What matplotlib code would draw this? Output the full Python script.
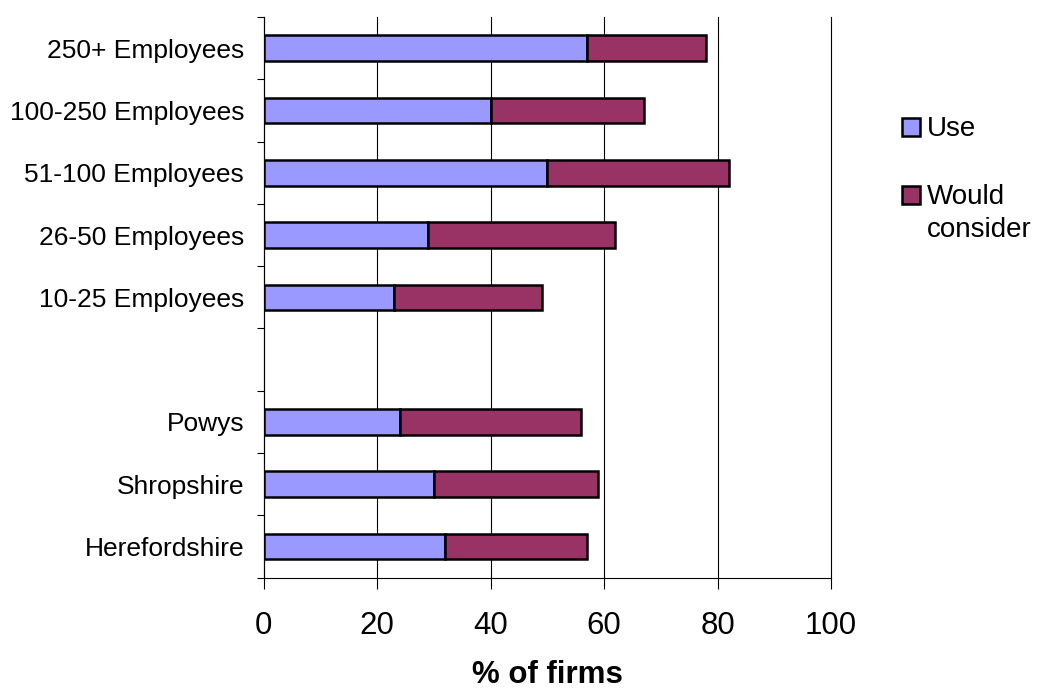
import numpy as np
import matplotlib.pyplot as plt
from matplotlib.patches import Rectangle

plt.rcParams['font.family'] = ['Liberation Sans', 'DejaVu Sans']

# firm size bands, top to bottom
size_labels = ['250+ Employees', '100-250 Employees', '51-100 Employees',
               '26-50 Employees', '10-25 Employees']
size_use = [57, 40, 50, 29, 23]
size_consider = [21, 27, 32, 33, 26]

# counties, top to bottom
county_labels = ['Powys', 'Shropshire', 'Herefordshire']
county_use = [24, 30, 32]
county_consider = [32, 29, 25]

use_color = '#9999FF'
consider_color = '#993366'

# one empty slot between the two groups
labels = size_labels + [''] + county_labels
use = size_use + [None] + county_use
consider = size_consider + [None] + county_consider
n = len(labels)
pos = np.arange(n)[::-1]

fig = plt.figure(figsize=(10.4, 6.91), dpi=100)
ax = fig.add_axes([0.2534, 0.164, 0.5457, 0.8114])

for y, u, c in zip(pos, use, consider):
    if u is None:
        continue
    ax.barh(y, u, height=0.41, color=use_color, edgecolor='black', linewidth=1.8, zorder=3)
    ax.barh(y, c, left=u, height=0.41, color=consider_color, edgecolor='black',
            linewidth=1.8, zorder=3)

ax.set_xlim(0, 100)
ax.set_ylim(-0.5, n - 0.5)
ax.set_xticks([0, 20, 40, 60, 80, 100])
ax.tick_params(axis='x', labelsize=22.5, length=8, width=0.8, direction='out', pad=16)
ax.set_yticks(pos)
ax.set_yticklabels(labels)
ax.set_yticks(np.arange(-0.5, n, 1), minor=True)
ax.tick_params(axis='y', which='major', length=0, labelsize=19, pad=14)
ax.tick_params(axis='y', which='minor', length=5, width=0.8, direction='out')

ax.grid(axis='x', color='black', linewidth=0.8, zorder=0)
for gl in ax.get_xgridlines():
    gl.set_clip_on(False)
ax.spines['top'].set_visible(False)
ax.spines['right'].set_visible(False)
ax.spines['left'].set_linewidth(0.8)
ax.spines['bottom'].set_linewidth(0.8)

ax.set_xlabel('% of firms', fontsize=22.5, fontweight='bold', labelpad=14)

# legend drawn by hand so the swatch sits on the first text line
sw = 18 / 1040
for yy, col, txt in [(1 - 127 / 691, use_color, 'Use'),
                     (1 - 195 / 691, consider_color, 'Would\nconsider')]:
    fig.patches.append(Rectangle((902 / 1040, yy - 9 / 691), sw, 18 / 691,
                                 transform=fig.transFigure, facecolor=col,
                                 edgecolor='black', linewidth=1.8))
    fig.text(927 / 1040, yy + 11 / 691, txt, fontsize=20, va='top', ha='left',
             linespacing=1.36)

fig.savefig('out.png', dpi=100)
